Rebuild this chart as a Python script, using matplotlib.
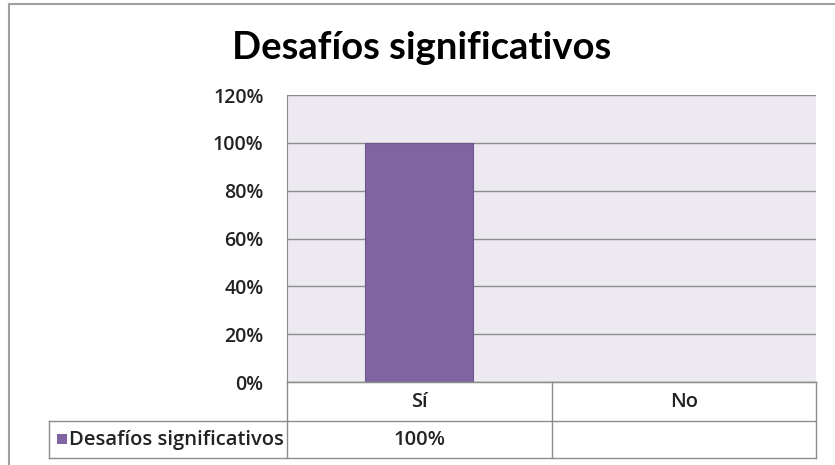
import matplotlib
matplotlib.use("Agg")
import matplotlib.pyplot as plt
from matplotlib.lines import Line2D
from matplotlib.patches import Rectangle
from matplotlib.ticker import FuncFormatter

title = "Desafíos significativos"
categories = ["Sí", "No"]
series_name = "Desafíos significativos"
values = [1.00, None]
yticks = [0, 0.2, 0.4, 0.6, 0.8, 1.0, 1.2]

W, H = 835, 465
FONT = ["Open Sans", "DejaVu Sans"]
TITLE_FONT = ["Lato", "DejaVu Sans"]
plt.rcParams["font.family"] = FONT

fig = plt.figure(figsize=(W / 100, H / 100), dpi=100)
fig.patch.set_facecolor("white")

def fx(px):
    return px / W

def fy(py):
    return 1 - py / H

L, R, T, B = 287, 816, 95, 382
ax = fig.add_axes([fx(L), fy(B), fx(R) - fx(L), fy(T) - fy(B)])
ax.set_facecolor("#ECEAF0")
ax.set_xlim(-0.5, len(categories) - 0.5)
ax.set_ylim(0, 1.2)
ax.set_yticks(yticks)
ax.yaxis.set_major_formatter(FuncFormatter(lambda v, p: f"{v*100:.0f}%"))
ax.grid(axis="y", color="#8C8C8C", linewidth=1.0)
ax.set_axisbelow(True)
ax.set_xticks([])
ax.tick_params(axis="y", length=0, pad=17, labelsize=14)
for lab in ax.get_yticklabels():
    lab.set_fontweight("semibold")
    lab.set_color("#222222")
for s in ["top", "right"]:
    ax.spines[s].set_visible(False)
ax.spines["left"].set_color("#8C8C8C")
ax.spines["bottom"].set_color("#8C8C8C")

xs = [i for i, v in enumerate(values) if v is not None]
hs = [v for v in values if v is not None]
ax.bar(xs, hs, width=0.41, color="#8064A2", edgecolor="#6E5590", linewidth=0.8, zorder=3)

fig.text(fx(422), fy(48), title, ha="center", va="center", fontsize=27.5,
         fontweight="bold", color="black", family=TITLE_FONT)

# data table
lc = "#8C8C8C"
def hline(x0, x1, y):
    fig.add_artist(Line2D([fx(x0), fx(x1)], [fy(y), fy(y)], color=lc, lw=1.0,
                          transform=fig.transFigure))

def vline(x, y0, y1, color=lc):
    fig.add_artist(Line2D([fx(x), fx(x)], [fy(y0), fy(y1)], color=color, lw=1.0,
                          transform=fig.transFigure))

row1_top, row1_bot, row2_bot = 382, 421, 458
left_col = 49
ncat = len(categories)
col_edges = [L + (R - L) * i / ncat for i in range(ncat + 1)]

hline(L, R, row1_top)
hline(left_col, R, row1_bot)
hline(left_col, R, row2_bot)
vline(left_col, row1_bot, row2_bot)
for xe in col_edges:
    vline(xe, row1_top, row2_bot)

tsize = 14.5
for i, cat in enumerate(categories):
    cx = (col_edges[i] + col_edges[i + 1]) / 2
    fig.text(fx(cx), fy((row1_top + row1_bot) / 2), cat, ha="center", va="center",
             fontsize=tsize, fontweight="semibold", color="#222222")
    v = values[i]
    if v is not None:
        fig.text(fx(cx), fy((row1_bot + row2_bot) / 2), f"{v*100:.0f}%", ha="center",
                 va="center", fontsize=tsize, fontweight="semibold", color="#222222")

# legend key in table
fig.add_artist(Rectangle((fx(57), fy(444)), fx(67) - fx(57), fy(434) - fy(444),
                         facecolor="#8064A2", edgecolor="none", transform=fig.transFigure))
fig.text(fx(69), fy((row1_bot + row2_bot) / 2), series_name, ha="left", va="center",
         fontsize=tsize, fontweight="semibold", color="#222222")

# outer chart border (top and left visible)
fig.add_artist(Line2D([fx(9), fx(835)], [fy(4), fy(4)], color="#A0A0A0", lw=1.5,
                      transform=fig.transFigure))
fig.add_artist(Line2D([fx(9), fx(9)], [fy(4), fy(465)], color="#A0A0A0", lw=1.5,
                      transform=fig.transFigure))

fig.savefig("out.png", dpi=100)
